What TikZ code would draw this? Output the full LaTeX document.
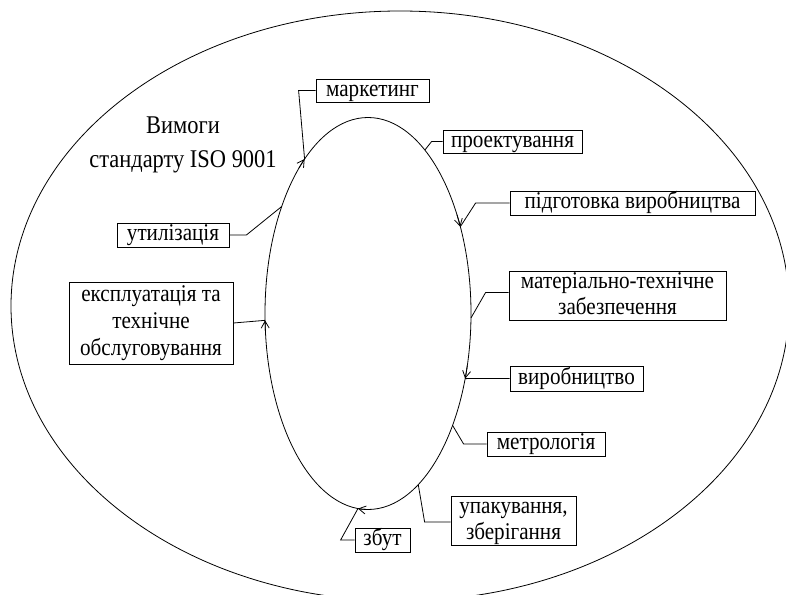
\documentclass[tikz,border=0pt]{standalone}
\usepackage{fontspec}
\setmainfont{Liberation Serif}[FakeStretch=0.88]
\usetikzlibrary{arrows.meta,calc}
\begin{document}
\begin{tikzpicture}[x=1pt,y=1pt,line width=0.8pt,
  box/.style={draw,inner sep=0pt,align=center,text height=17pt,text depth=6pt,font=\fontsize{24}{26}\selectfont},
  twoline/.style={text height=43pt},
  threeline/.style={text height=71pt,font=\fontsize{24}{27}\selectfont},
  lbl/.style={inner sep=0pt,align=center,font=\fontsize{25.5}{34}\selectfont},
  tip/.style={-{Straight Barb[length=7pt,width=8pt,line width=0.8pt]}}]
\useasboundingbox (0,0) rectangle (786,-594);
\begin{scope}
  \clip (0,0) rectangle (786,-594);
  \draw (400,-306) ellipse [x radius=389, y radius=295];
\end{scope}
% inner cycle
\coordinate (c) at (368,-313.5);
\draw (c) ellipse [x radius=103, y radius=196];
\foreach \a/\n in {128/pM,56.5/pP,26.3/pD,-1.3/pT,-19.4/pV,-34.8/pR,-60.8/pK,264.4/pZ,182/pE,146.9/pU}
  \path (c) ++(\a:103 and 196) coordinate (\n);
\foreach \a in {128,26.3,-19.4,264.4,182}
  \draw[tip] (c) ++(\a+4:103 and 196) arc[start angle=\a+4, end angle=\a, x radius=103, y radius=196];
% title
\node[lbl] (title) at (183,-145) {Вимоги\\стандарту ISO 9001};
% boxes
\node[box,minimum width=113,minimum height=23] (mk) at (372.5,-90.5) {маркетинг};
\node[box,minimum width=139,minimum height=23] (pr) at (512.5,-141.5) {проектування};
\node[box,minimum width=245,minimum height=24] (pd) at (632.5,-203) {підготовка виробництва};
\node[box,minimum width=112,minimum height=24] (ut) at (173,-235) {утилізація};
\node[box,twoline,minimum width=217,minimum height=49] (mt) at (617.5,-295.5) {матеріально-технічне\\забезпечення};
\node[box,threeline,minimum width=164,minimum height=82] (ek) at (151,-323) {експлуатація та\\технічне\\обслуговування};
\node[box,minimum width=133,minimum height=25] (vy) at (576.5,-378.5) {виробництво};
\node[box,minimum width=118,minimum height=24] (me) at (546,-444) {метрологія};
\node[box,twoline,minimum width=125,minimum height=49] (up) at (513.5,-520.5) {упакування,\\зберігання};
\node[box,minimum width=55,minimum height=24] (zb) at (382.5,-540) {збут};
% connectors
\draw (mk.west) -- ++(-17,0) -- (pM);
\draw (pr.west) -- ++(-11,0) -- (pP);
\draw (pd.west) -- ++(-34,0) -- (pD);
\draw (ut.east) -- ++(17,0) -- (pU);
\draw ($(mt.west)+(0,3)$) -- ++(-23,0) -- (pT);
\draw (ek.east) -- (pE);
\draw (vy.west) -- (pV);
\draw (me.west) -- ++(-23,0) -- (pR);
\draw ($(up.west)+(0,-1.5)$) -- ++(-26,0) -- (pK);
\draw (zb.west) -- ++(-14,0) -- (pZ);
\end{tikzpicture}
\end{document}
